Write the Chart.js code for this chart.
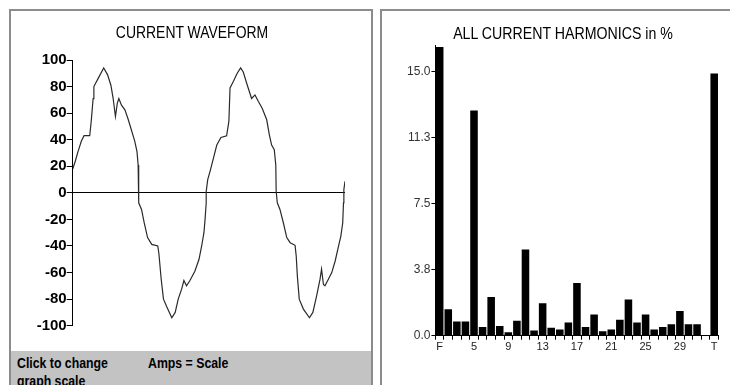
<!DOCTYPE html>
<html>
<head>
<meta charset="utf-8">
<script src="https://cdn.jsdelivr.net/npm/chart.js@4.4.1/dist/chart.umd.min.js"></script>
<style>
  body { margin: 0; background: #fff; width: 730px; height: 385px; overflow: hidden; position: relative; }
  .panel { position: absolute; border: 2px solid #8c8c8c; border-bottom: none; background: #fff; }
  #left { left: 9px; top: 9px; width: 360px; height: 380px; }
  #right { left: 380px; top: 9px; width: 370px; height: 380px; }
  .title { position: absolute; top: 12px; width: 300px; text-align: center; white-space: nowrap;
           font: 17px 'Liberation Sans', Arial, sans-serif; line-height: 20px; color: #000;
           transform: scaleX(0.82); transform-origin: center; }
  .footer { position: absolute; left: 0; top: 340px; width: 360px; height: 50px; background: #c3c3c3;
            font: bold 15px 'Liberation Sans', Arial, sans-serif; line-height: 18px; color: #000; }
  .footer span { position: absolute; top: 3px; white-space: nowrap; transform: scaleX(0.82); transform-origin: left top; }
</style>
</head>
<body>
<div class="panel" id="left">
  <div style="position:absolute;left:0;top:0;width:360px;height:340px;"><canvas id="waveChart"></canvas></div>
  <div class="title" style="left:31px;">CURRENT WAVEFORM</div>
  <div class="footer">
    <span style="left:6px;">Click to change<br>graph scale</span>
    <span style="left:137px;">Amps = Scale</span>
  </div>
</div>
<div class="panel" id="right">
  <div style="position:absolute;left:0;top:0;width:348px;height:374px;"><canvas id="harmChart"></canvas></div>
  <div class="title" style="left:31px;font-size:17.3px;">ALL CURRENT HARMONICS in %</div>
</div>
<script>
// Datos de la forma de onda (grados, amperios)
const waveDeg = [0, 7, 14, 23, 30, 45, 49, 54, 56, 67, 82, 92, 101, 107, 113, 118, 122, 129, 138, 146, 155, 164, 170, 173,
  174, 175, 182, 189, 198, 209, 225, 228, 234, 240, 249, 262, 271, 279, 288, 294, 301, 310, 323, 334, 341, 347, 350, 353,
  353, 357, 363, 372, 381, 392, 407, 413, 416, 425, 435, 444, 451, 460, 473, 482, 491, 501, 513, 520, 526, 533, 537,
  538, 541, 548, 557, 566, 575, 588, 591, 594, 599, 610, 626, 635, 645, 654, 658, 663, 667, 676, 685, 694, 702, 709, 714, 716, 717, 720];
const waveAmps = [18, 24, 31, 39, 43, 43, 54, 71, 80, 86, 94, 89, 81, 71, 57.5, 67.5, 71, 66, 62.5, 56, 47.5, 39, 31, 21,
  1, -7.5, -12.5, -22.5, -33.7, -38.8, -40, -46, -65, -80, -86, -94, -90, -80, -72.5, -66, -70, -66, -59, -50, -40, -30, -20, -7.5,
  1, 10, 16, 26, 36, 41.7, 43, 54, 79, 84, 90, 94, 91, 82.5, 71, 73.7, 68.7, 63.7, 55, 43.7, 36, 32.5, 21,
  1, -7.5, -12.5, -22.5, -33.7, -37.5, -39.5, -47.5, -62.5, -80, -87.5, -94, -90, -77.5, -65, -57.5, -69, -70, -65, -60, -51.3, -41.3, -32.5, -22.5, -7.5, 2.5, 8.7];
const ampTicks = [-100, -80, -60, -40, -20, 0, 20, 40, 60, 80, 100];

// Datos de armónicos
const harmCats = ['F', '2', '3', '4', '5', '6', '7', '8', '9', '10', '11', '12', '13', '14', '15', '16', '17',
  '18', '19', '20', '21', '22', '23', '24', '25', '26', '27', '28', '29', '30', '31', '32', 'T'];
const harmPct = [16.4, 1.5, 0.8, 0.8, 12.8, 0.5, 2.2, 0.55, 0.2, 0.85, 4.9, 0.3, 1.85, 0.45, 0.35, 0.75, 3.0,
  0.5, 1.2, 0.25, 0.35, 0.9, 2.05, 0.75, 1.2, 0.35, 0.5, 0.65, 1.4, 0.65, 0.65, 0, 14.9];
const harmShown = ['F', '5', '9', '13', '17', '21', '25', '29', 'T'];
const pctTicks = [0, 3.75, 7.5, 11.25, 15];

const sans = "'Liberation Sans', Arial, sans-serif";

// Gráfico de forma de onda
new Chart(document.getElementById('waveChart'), {
  type: 'line',
  data: {
    datasets: [{
      data: waveDeg.map((d, i) => ({ x: d, y: waveAmps[i] })),
      borderColor: '#2a2a2a',
      borderWidth: 1.2,
      pointRadius: 0,
      tension: 0
    }]
  },
  options: {
    responsive: true,
    maintainAspectRatio: false,
    animation: false,
    layout: { padding: { top: 49, left: 0, right: 26, bottom: 25.3 } },
    plugins: {
      legend: { display: false },
      tooltip: { enabled: false }
    },
    scales: {
      x: { type: 'linear', min: 0, max: 720, display: false },
      y: {
        min: -100,
        max: 100,
        afterBuildTicks: s => { s.ticks = ampTicks.map(v => ({ value: v })); },
        afterFit: s => { s.width = 61.7; },
        border: { display: true, color: '#000', width: 1 },
        grid: {
          color: ctx => (ctx.tick && ctx.tick.value === 0 ? '#000' : 'rgba(0,0,0,0)'),
          tickColor: '#000',
          tickLength: 6,
          lineWidth: 1
        },
        ticks: {
          color: '#000',
          padding: 0,
          font: { family: sans, size: 15, weight: 'bold' }
        }
      }
    }
  }
});

// Gráfico de armónicos
new Chart(document.getElementById('harmChart'), {
  type: 'bar',
  data: {
    labels: harmCats,
    datasets: [{
      data: harmPct,
      backgroundColor: '#000',
      borderWidth: 0,
      barPercentage: 0.88,
      categoryPercentage: 1.0
    }]
  },
  options: {
    responsive: true,
    maintainAspectRatio: false,
    animation: false,
    layout: { padding: { top: 34.3, left: 0, right: 11.5, bottom: 29.3 } },
    plugins: {
      legend: { display: false },
      tooltip: { enabled: false }
    },
    scales: {
      x: {
        afterFit: s => { s.height = 20; },
        border: { display: true, color: '#000' },
        grid: { offset: true, drawOnChartArea: false, color: '#000', tickLength: 4 },
        ticks: {
          autoSkip: false,
          maxRotation: 0,
          padding: 1,
          color: '#222',
          font: { family: sans, size: 11 },
          callback: (v, i) => (harmShown.includes(harmCats[i]) ? harmCats[i] : '')
        }
      },
      y: {
        min: 0,
        max: 16.5,
        afterBuildTicks: s => { s.ticks = pctTicks.map(v => ({ value: v })); },
        afterFit: s => { s.width = 53.4; },
        border: { display: true, color: '#000' },
        grid: { drawOnChartArea: false, color: '#000', tickLength: 4 },
        ticks: {
          padding: 1,
          color: '#333',
          font: { family: sans, size: 12 },
          callback: v => v.toFixed(1)
        }
      }
    }
  }
});
</script>
</body>
</html>
